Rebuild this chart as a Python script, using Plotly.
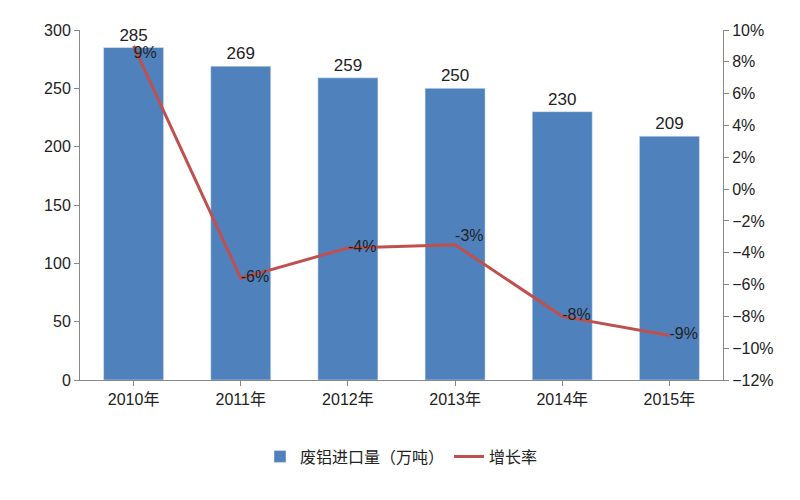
import plotly.graph_objects as go

years = ["2010年","2011年","2012年","2013年","2014年","2015年"]
imports = [285,269,259,250,230,209]
growth = [9.0,-5.6,-3.7,-3.5,-8.0,-9.2]
growth_labels = ["9%","-6%","-4%","-3%","-8%","-9%"]

fig = go.Figure()
fig.add_bar(x=years, y=imports, name="废铝进口量（万吨）", marker_color="#4F81BD",
            text=[str(v) for v in imports], textposition="outside",
            textfont=dict(size=17, color="#222"), width=0.56, cliponaxis=False)
fig.add_scatter(x=years, y=growth, name="增长率", yaxis="y2", mode="lines+text",
                line=dict(color="#C0504D", width=3), text=growth_labels,
                textposition=["bottom right","middle right","middle right","top right","middle right","middle right"],
                textfont=dict(size=16, color="#222"), cliponaxis=False)
fig.update_layout(
    width=800, height=500, paper_bgcolor="white", plot_bgcolor="white",
    margin=dict(l=72, r=85, t=22, b=128, autoexpand=False),
    font=dict(family="Liberation Sans, Noto Sans CJK SC", size=16, color="#222"),
    yaxis=dict(range=[0,300], dtick=50, showline=True, linecolor="#888", ticks="outside",
               tickcolor="#888", showgrid=False, zeroline=False),
    yaxis2=dict(range=[-12,10], dtick=2, overlaying="y", side="right", ticksuffix="%",
                showline=True, linecolor="#888", ticks="outside", tickcolor="#888",
                showgrid=False, zeroline=False),
    xaxis=dict(showline=True, linecolor="#888", ticks="outside", tickcolor="#888"),
    legend=dict(orientation="h", x=0.5, xanchor="center", y=-0.17, yanchor="top",
                font=dict(size=16)),
    showlegend=True,
)
fig.write_html("out.html")
